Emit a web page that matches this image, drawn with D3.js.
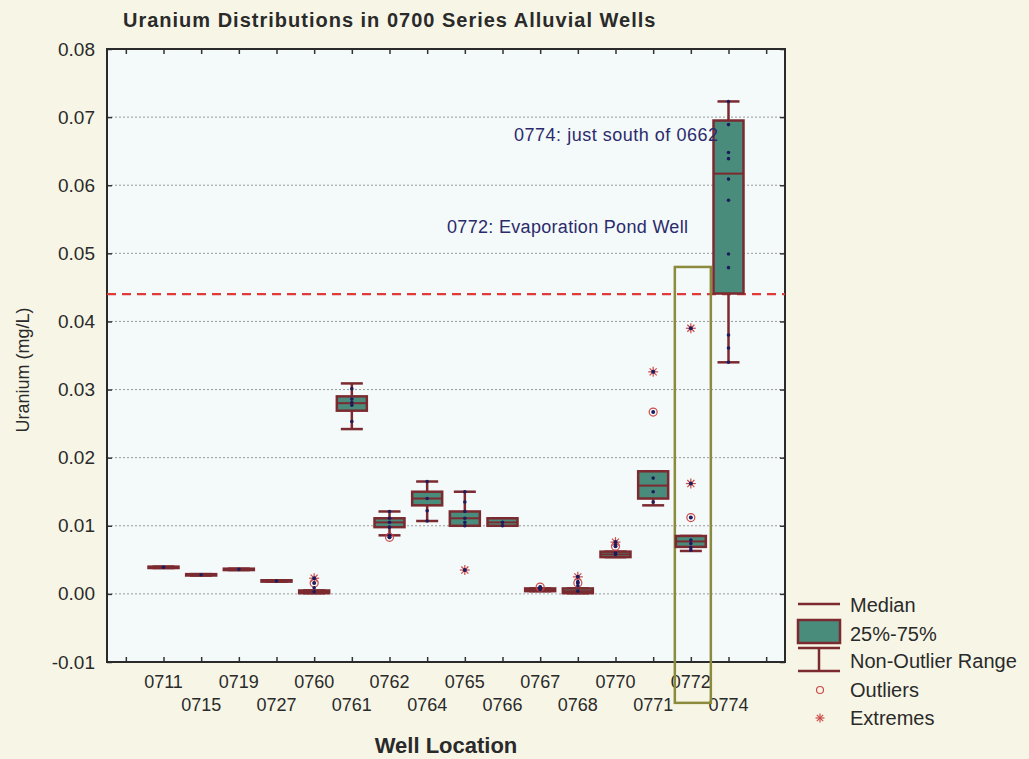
<!DOCTYPE html>
<html>
<head>
<meta charset="utf-8">
<script src="https://cdn.jsdelivr.net/npm/d3@7"></script>
<style>
  body { margin: 0; background: #f7f6e6; }
  svg { display: block; font-family: "Liberation Sans", Arial, sans-serif; }
</style>
</head>
<body>
<script>
// wells along the x axis
const wells = ['0711','0715','0719','0727','0760','0761','0762','0764','0765','0766','0767','0768','0770','0771','0772','0774'];

// box plot stats (mg/L)
const median = [0.0039,0.0028,0.0036,0.0019,0.0003,0.0280,0.0105,0.0140,0.0111,0.0105,0.0006,0.0004,0.0058,0.0159,0.0077,0.0617];
const q1     = [0.0038,0.0027,0.0035,0.0018,0.0001,0.0269,0.0098,0.0130,0.0100,0.0100,0.0004,0.0001,0.0054,0.0140,0.0069,0.0441];
const q3     = [0.0040,0.0029,0.0037,0.0020,0.0005,0.0290,0.0111,0.0150,0.0121,0.0111,0.0008,0.0008,0.0062,0.0180,0.0085,0.0695];
const whLow  = [0.0038,0.0027,0.0035,0.0018,0.0001,0.0242,0.0086,0.0107,0.0100,0.0100,0.0004,0.0001,0.0054,0.0130,0.0063,0.0340];
const whHigh = [0.0040,0.0029,0.0037,0.0020,0.0005,0.0309,0.0121,0.0165,0.0150,0.0111,0.0008,0.0008,0.0062,0.0180,0.0085,0.0723];

const outliers = [['0760',0.0016],['0762',0.0083],['0767',0.0010],['0768',0.0016],['0770',0.0070],['0771',0.0267],['0772',0.0112]];
const extremes = [['0760',0.0023],['0765',0.0035],['0768',0.0025],['0770',0.0076],['0771',0.0326],['0772',0.0162],['0772',0.0390]];

// raw observations shown as small dots
const obs = [
  ['0711',0.0039],['0715',0.0028],['0719',0.0036],['0727',0.0019],['0760',0.0003],['0760',0.0009],
  ['0761',0.0301],['0761',0.0286],['0761',0.0281],['0761',0.0277],['0761',0.0253],
  ['0762',0.0121],['0762',0.0111],['0762',0.0105],['0762',0.0098],['0762',0.0086],['0762',0.0083],
  ['0764',0.0165],['0764',0.0140],['0764',0.0122],['0764',0.0107],
  ['0765',0.0150],['0765',0.0135],['0765',0.0121],['0765',0.0111],['0765',0.0105],['0765',0.0100],
  ['0766',0.0105],['0766',0.0100],['0767',0.0006],['0767',0.0009],['0768',0.0004],['0768',0.0012],['0768',0.0018],
  ['0770',0.0058],['0770',0.0060],['0770',0.0072],['0771',0.0170],['0771',0.0150],['0771',0.0135],
  ['0772',0.0079],['0772',0.0074],['0772',0.0068],['0772',0.0064],
  ['0774',0.0723],['0774',0.0689],['0774',0.0648],['0774',0.0639],['0774',0.0609],['0774',0.0578],
  ['0774',0.0499],['0774',0.0479],['0774',0.0380],['0774',0.0361],['0774',0.0340]
];

const yTicks = [-0.01,0,0.01,0.02,0.03,0.04,0.05,0.06,0.07,0.08];
const limit = 0.044;
const notes = [['0774: just south of 0662', 0.0665], ['0772: Evaporation Pond Well', 0.0530]];
const legendItems = ['Median','25%-75%','Non-Outlier Range','Outliers','Extremes'];

const W = 1029, H = 759;
const L = 107, R = 785, T = 49, B = 662;

const svg = d3.select('body').append('svg').attr('width', W).attr('height', H);

const x = d3.scalePoint().domain(wells).range([L, R]).padding(1.5);
const slots = d3.scalePoint().domain(['a', ...wells, 'b']).range([L, R]).padding(0.5);
const y = d3.scaleLinear().domain([-0.01, 0.08]).range([B, T]);

svg.append('rect').attr('x', L).attr('y', T).attr('width', R - L).attr('height', B - T).attr('fill', '#f4f9fa');

// grid
svg.append('g').selectAll('line').data(yTicks.slice(1, -1)).enter().append('line')
  .attr('x1', L).attr('x2', R).attr('y1', d => y(d)).attr('y2', d => y(d))
  .attr('stroke', '#9a9a9a').attr('stroke-width', 1).attr('stroke-dasharray', '2,2');

// axes
const fmt = d => d3.format('.2f')(d).replace('\u2212', '-');
svg.append('g').attr('transform', 'translate(' + L + ',0)')
  .call(d3.axisLeft(y).tickValues(yTicks).tickFormat(fmt).tickSizeInner(-5).tickSizeOuter(0).tickPadding(12))
  .call(g => { g.select('.domain').remove(); g.selectAll('line').attr('stroke', '#333').attr('stroke-width', 1.5);
    g.selectAll('text').attr('font-size', 19).attr('fill', '#2a2a2a'); });
svg.append('g').attr('transform', 'translate(' + R + ',0)')
  .call(d3.axisRight(y).tickValues(yTicks).tickFormat('').tickSizeInner(-5).tickSizeOuter(0))
  .call(g => { g.select('.domain').remove(); g.selectAll('line').attr('stroke', '#333').attr('stroke-width', 1.5); });
svg.append('g').attr('transform', 'translate(0,' + B + ')')
  .call(d3.axisBottom(slots).tickFormat('').tickSizeInner(-5).tickSizeOuter(0))
  .call(g => { g.select('.domain').remove(); g.selectAll('line').attr('stroke', '#333').attr('stroke-width', 1.5); });
svg.append('g').attr('transform', 'translate(0,' + T + ')')
  .call(d3.axisTop(slots).tickFormat('').tickSizeInner(-5).tickSizeOuter(0))
  .call(g => { g.select('.domain').remove(); g.selectAll('line').attr('stroke', '#333').attr('stroke-width', 1.5); });

svg.append('rect').attr('x', L).attr('y', T).attr('width', R - L).attr('height', B - T)
  .attr('fill', 'none').attr('stroke', '#2a2a2a').attr('stroke-width', 2);

// x labels, staggered on two rows
svg.append('g').selectAll('text').data(wells).enter().append('text')
  .attr('x', d => x(d)).attr('y', (d, i) => i % 2 ? 711 : 688)
  .attr('text-anchor', 'middle').attr('font-size', 18).attr('fill', '#2a2a2a').text(d => d);

// limit line
svg.append('line').attr('x1', L).attr('x2', R).attr('y1', y(limit)).attr('y2', y(limit))
  .attr('stroke', '#e03a3a').attr('stroke-width', 2.2).attr('stroke-dasharray', '9,6');

// highlight around 0772
svg.append('rect').attr('x', x('0772') - 16).attr('y', y(0.048))
  .attr('width', 36).attr('height', y(-0.016) - y(0.048))
  .attr('fill', 'none').attr('stroke', '#8c8a3c').attr('stroke-width', 2.5);

const boxColor = '#7b2a30', fillColor = '#4a8c7c', dotColor = '#1c1c5c', symColor = '#cc4a4a';
const bw = 30, cw = 22;

const boxes = svg.append('g').selectAll('g').data(wells).enter().append('g')
  .attr('transform', d => 'translate(' + x(d) + ',0)');
boxes.append('line').attr('x1', 0).attr('x2', 0)
  .attr('y1', (d, i) => y(whLow[i])).attr('y2', (d, i) => y(whHigh[i]))
  .attr('stroke', boxColor).attr('stroke-width', 2.5);
boxes.append('line').attr('x1', -cw / 2).attr('x2', cw / 2)
  .attr('y1', (d, i) => y(whLow[i])).attr('y2', (d, i) => y(whLow[i]))
  .attr('stroke', boxColor).attr('stroke-width', 2.5);
boxes.append('line').attr('x1', -cw / 2).attr('x2', cw / 2)
  .attr('y1', (d, i) => y(whHigh[i])).attr('y2', (d, i) => y(whHigh[i]))
  .attr('stroke', boxColor).attr('stroke-width', 2.5);
boxes.append('rect').attr('x', -bw / 2).attr('width', bw)
  .attr('y', (d, i) => y(q3[i])).attr('height', (d, i) => y(q1[i]) - y(q3[i]))
  .attr('fill', fillColor).attr('stroke', boxColor).attr('stroke-width', 2.5);
boxes.append('line').attr('x1', -bw / 2).attr('x2', bw / 2)
  .attr('y1', (d, i) => y(median[i])).attr('y2', (d, i) => y(median[i]))
  .attr('stroke', boxColor).attr('stroke-width', 2);

// outliers and extremes
svg.append('g').selectAll('circle').data(outliers).enter().append('circle')
  .attr('cx', d => x(d[0])).attr('cy', d => y(d[1])).attr('r', 4)
  .attr('fill', 'none').attr('stroke', symColor).attr('stroke-width', 1.2);
function asterisk(g, cx, cy, r) {
  [0, 45, 90, 135].forEach(a => {
    const rad = a * Math.PI / 180;
    g.append('line').attr('x1', cx - r * Math.cos(rad)).attr('x2', cx + r * Math.cos(rad))
      .attr('y1', cy - r * Math.sin(rad)).attr('y2', cy + r * Math.sin(rad))
      .attr('stroke', symColor).attr('stroke-width', 1.2);
  });
}
const ex = svg.append('g');
extremes.forEach(d => asterisk(ex, x(d[0]), y(d[1]), 5));
svg.append('g').selectAll('circle').data(extremes.concat(outliers)).enter().append('circle')
  .attr('cx', d => x(d[0])).attr('cy', d => y(d[1])).attr('r', 2).attr('fill', dotColor);

// raw data dots
svg.append('g').selectAll('circle').data(obs).enter().append('circle')
  .attr('cx', d => x(d[0])).attr('cy', d => y(d[1])).attr('r', 1.8).attr('fill', dotColor);

// annotations
svg.append('text').attr('x', 514).attr('y', y(notes[0][1])).attr('font-size', 18).attr('fill', '#2b2b6b')
  .attr('textLength', 204).attr('lengthAdjust', 'spacing').text(notes[0][0]);
svg.append('text').attr('x', 447).attr('y', y(notes[1][1])).attr('font-size', 18).attr('fill', '#2b2b6b')
  .attr('textLength', 241).attr('lengthAdjust', 'spacing').text(notes[1][0]);

// titles
svg.append('text').attr('x', 123).attr('y', 27).attr('font-size', 20).attr('font-weight', 'bold')
  .attr('letter-spacing', 1).attr('fill', '#2a2a2a')
  .text('Uranium Distributions in 0700 Series Alluvial Wells');
svg.append('text').attr('x', 446).attr('y', 753).attr('text-anchor', 'middle').attr('font-size', 22)
  .attr('font-weight', 'bold').attr('fill', '#2a2a2a').text('Well Location');
svg.append('text').attr('transform', 'translate(29,370) rotate(-90)').attr('text-anchor', 'middle')
  .attr('font-size', 18).attr('fill', '#2a2a2a').text('Uranium (mg/L)');

// legend
const lg = svg.append('g');
const lx = 798, lw = 42, tx = 850;
lg.append('line').attr('x1', lx).attr('x2', lx + lw).attr('y1', 604).attr('y2', 604).attr('stroke', boxColor).attr('stroke-width', 2.5);
lg.append('rect').attr('x', lx).attr('y', 620).attr('width', lw).attr('height', 23)
  .attr('fill', fillColor).attr('stroke', boxColor).attr('stroke-width', 2.5);
lg.append('line').attr('x1', lx).attr('x2', lx + lw).attr('y1', 648).attr('y2', 648).attr('stroke', boxColor).attr('stroke-width', 2.5);
lg.append('line').attr('x1', lx).attr('x2', lx + lw).attr('y1', 671).attr('y2', 671).attr('stroke', boxColor).attr('stroke-width', 2.5);
lg.append('line').attr('x1', lx + lw / 2).attr('x2', lx + lw / 2).attr('y1', 648).attr('y2', 671).attr('stroke', boxColor).attr('stroke-width', 2.5);
lg.append('circle').attr('cx', 820).attr('cy', 690).attr('r', 3.5).attr('fill', 'none').attr('stroke', symColor).attr('stroke-width', 1.2);
asterisk(lg, 820, 718, 4.5);
lg.selectAll('text').data(legendItems).enter().append('text')
  .attr('x', tx).attr('y', (d, i) => [612, 641, 668, 697, 725][i])
  .attr('font-size', 20).attr('fill', '#2a2a2a').text(d => d);
</script>
</body>
</html>
